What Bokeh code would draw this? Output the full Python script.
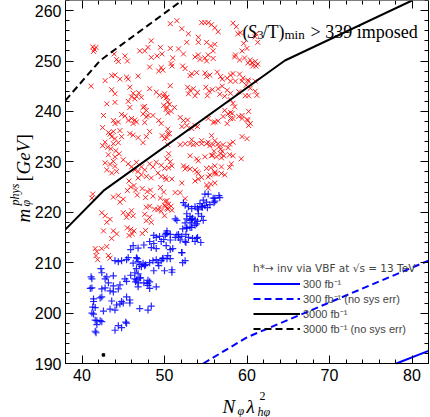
import math
from bokeh.plotting import figure
from bokeh.models import (Range1d, LinearAxis, SingleIntervalTicker, Label,
                          Legend, LegendItem)
from bokeh.embed import file_html
from bokeh.resources import INLINE

# ---------------- data ----------------
red_x = [41.3,41.5,41.7,41.4,41.1,43.9,44.2,44.4,45.2,45.5,48.4,47.0,47.6,48.0,48.4,49.1,49.7,49.5,
         48.2,49.3,49.6,49.8,42.8,43.6,44.0,44.6,45.4,45.6,46.8,45.8,43.6,44.0,46.2,46.6,46.9,47.2,46.4,46.0,
         48.2,49.0,49.4,49.9,50.3,49.9,50.3,47.4,47.8,47.6,45.6,45.8,43.0,44.0,42.6,43.8,44.0,44.4,
         44.8,45.2,45.6,46.0,46.2,46.6,46.4,47.4,47.8,48.0,47.6,48.6,49.3,49.6,50.4,
         42.5,43.2,43.4,43.8,44.0,43.6,44.6,44.8,44.4,45.8,46.2,46.8,48.2,47.8,47.4,49.7,50.0,50.4,42.8,
         51.5,50.7,52.1,54.5,54.9,55.3,55.7,56.1,56.5,58.3,58.7,52.9,52.7,54.1,54.1,55.1,55.6,56.1,55.9,
         58.9,59.2,59.6,60.0,50.7,50.8,50.9,51.0,51.7,52.3,53.7,54.1,54.3,54.9,55.1,55.3,55.9,
         58.5,59.1,59.7,60.1,60.7,52.2,52.5,53.1,53.3,53.9,54.9,55.1,55.5,56.4,56.8,57.0,57.6,58.0,58.3,
         59.1,59.5,59.9,60.1,50.7,52.8,53.1,53.5,52.9,53.7,54.0,55.0,55.4,55.8,55.2,56.5,56.7,57.3,
         58.0,58.3,58.5,50.0,50.2,50.4,50.6,50.2,50.8,51.2,51.9,52.3,52.1,52.7,52.8,53.3,53.7,54.0,
         55.3,55.9,56.5,57.7,58.0,58.3,59.4,60.1,53.3,54.5,55.7,56.1,55.3,50.4,50.6,50.3,59.4,60.0,
         61.0,61.3,61.1,58.6,59.4,60.4,60.6,61.0,61.3,61.1,57.0,58.0,58.6,59.4,60.2,61.0,60.4,61.0,61.2,
         57.6,58.0,59.0,59.8,60.2,60.2,60.0,60.4,60.2,58.2,58.0,59.0,59.4,57.3,57.1,56.1,57.6,
         57.9,58.3,56.6,56.8,56.0,55.8,57.0,56.8,57.2,58.1,56.1,56.9,55.6,56.1,56.3,55.6,
         42.5,43.1,43.5,43.8,44.1,44.5,43.2,44.0,42.8,43.4,43.8,44.0,43.0,43.6,44.2,
         45.0,45.6,46.0,46.4,46.8,47.2,46.6,47.6,47.2,46.8,47.8,48.2,48.6,49.0,49.6,50.0,49.2,49.6,48.4,50.2,
         41.3,41.2,43.8,44.4,44.6,45.0,45.7,45.9,46.3,45.5,46.5,46.7,47.3,47.9,48.3,47.7,48.6,
         49.5,49.9,49.5,50.1,42.4,42.8,43.4,43.0,45.0,45.6,46.0,45.4,46.2,47.6,48.2,47.8,48.4,
         49.2,49.6,50.0,42.6,43.8,44.2,43.6,45.5,45.9,46.3,46.1,45.7,47.3,47.7,41.6,42.4,
         41.8,41.7,41.9,43.0,43.2,43.4,47.8,48.2,48.8,49.4,50.0,50.4,50.8,
         50.4,51.9,52.5,53.1,53.5,53.9,54.5,55.1,55.5,55.9,56.5,57.1,57.7,50.5,50.3,50.7,50.9,50.5,
         53.1,53.9,54.1,54.9,55.7,56.3,56.9,57.9,58.3,59.3,52.3,52.5,52.7,53.1,53.7,53.9,54.1,
         55.1,55.5,56.1,56.9,57.3,57.9,55.3,50.1,50.9,52.1,53.7,54.1,54.5,55.1,55.3,56.1,
         51.3,51.9,52.5,50.3,50.5,50.3,50.1,50.9]
red_y = [252.8,252.3,252.7,251.9,245.0,251.4,250.3,249.9,251.0,250.0,254.0,252.0,252.0,252.7,250.7,251.0,251.4,252.7,
         248.8,248.0,248.7,248.2,246.1,247.1,247.2,246.4,246.8,246.4,247.0,244.8,244.3,243.5,243.6,243.0,243.7,242.8,242.5,242.9,
         244.5,243.8,243.2,243.0,242.8,241.2,240.8,240.8,240.2,241.0,242.0,240.8,241.5,241.8,239.2,238.2,237.6,237.9,
         239.4,239.1,238.2,238.6,237.6,237.9,238.3,239.5,238.9,239.2,237.8,239.2,238.2,237.6,239.7,
         236.8,235.8,235.5,236.0,234.6,235.0,236.2,235.0,233.8,235.6,235.3,234.8,236.0,235.0,233.8,235.2,234.6,235.6,233.9,
         258.0,257.4,256.4,257.6,257.6,257.6,257.2,256.6,255.8,257.5,256.8,255.4,253.7,254.7,253.7,253.7,253.0,253.3,252.0,
         255.4,255.6,253.5,252.5,252.5,249.5,249.0,250.6,252.4,251.4,250.8,251.2,250.3,250.6,250.0,251.2,250.5,
         250.8,250.2,250.6,249.6,249.0,249.0,248.5,247.1,247.5,247.7,247.6,246.9,247.2,247.8,246.9,246.4,246.6,247.2,247.5,
         247.4,246.6,245.2,246.2,245.1,244.8,244.2,244.5,243.5,243.1,243.8,244.8,244.0,244.3,243.1,244.5,243.4,243.0,
         242.3,241.6,240.9,243.5,242.7,241.9,241.4,240.4,240.0,240.8,238.8,238.2,237.0,237.2,238.3,236.6,237.2,237.0,
         238.6,237.8,238.1,239.5,239.8,238.6,239.2,238.2,234.4,234.2,235.2,234.2,233.9,236.5,235.6,234.8,235.0,234.6,
         254.8,253.7,255.4,251.2,252.0,250.2,249.6,249.9,249.4,249.0,245.0,246.0,246.0,246.0,246.0,246.0,244.6,244.0,243.2,
         244.2,243.6,243.9,243.1,243.1,240.0,238.4,237.6,237.2,239.6,238.6,239.0,238.6,240.2,239.0,237.9,237.6,
         233.5,233.9,233.0,232.5,232.1,231.3,232.1,231.6,231.2,229.6,229.2,229.0,228.8,228.0,227.6,225.6,
         233.2,232.9,232.6,233.6,232.2,231.6,231.4,231.0,229.8,229.5,230.1,229.1,228.4,227.8,228.1,
         230.4,229.6,229.0,228.4,228.1,229.0,229.9,228.4,227.4,226.8,227.1,229.6,229.0,229.9,229.3,228.7,227.8,227.1,226.8,226.5,
         223.6,222.8,223.0,223.3,222.0,222.6,226.2,225.0,225.3,224.3,224.4,223.4,224.7,224.1,224.4,222.9,223.2,
         224.9,224.0,222.8,222.2,219.9,219.3,218.6,218.0,219.9,219.6,220.3,219.0,219.3,219.6,219.0,218.3,218.0,
         220.5,220.2,219.3,216.3,216.3,215.7,214.8,216.9,216.6,216.3,215.7,215.4,215.8,216.4,212.8,212.8,
         212.2,211.4,210.6,213.2,211.4,210.9,221.0,221.2,220.6,221.0,221.4,220.6,221.2,
         233.4,233.4,233.6,233.6,233.4,233.6,233.6,233.6,233.2,233.4,233.6,233.4,232.8,231.6,230.6,230.0,229.2,228.8,
         231.2,230.6,230.2,231.0,231.2,231.0,230.8,231.4,231.2,230.6,229.2,228.6,228.9,228.6,228.4,228.0,227.7,
         228.7,227.4,227.7,227.7,227.4,228.9,227.0,226.9,226.6,225.8,226.2,226.6,226.9,225.4,224.8,225.8,
         223.9,223.9,222.7,222.3,221.6,220.8,221.2,220.4]

blue_x = [54.9,55.3,54.7,55.1,55.9,56.6,56.1,52.5,52.9,53.3,54.1,54.5,54.9,53.7,
          52.7,53.1,52.5,53.3,53.9,54.7,51.5,52.7,53.3,50.3,50.7,51.3,51.7,52.1,52.9,53.9,56.1,56.7,
          52.3,54.3,55.5,56.0,52.7,53.1,53.3,53.7,54.1,54.5,52.7,53.1,51.3,
          50.3,50.1,51.5,51.7,51.9,50.7,52.5,53.7,50.3,50.7,52.5,50.9,50.0,
          44.0,44.4,44.8,45.6,45.4,46.6,46.8,46.2,47.0,47.4,47.2,46.6,46.4,46.8,47.6,48.2,48.6,49.2,49.0,49.6,49.8,
          42.3,42.4,41.2,41.1,42.8,43.0,43.8,43.2,45.2,45.4,46.4,46.6,46.8,46.8,47.0,
          48.0,48.2,48.0,48.2,49.0,41.2,42.4,42.8,43.8,43.4,43.8,44.4,44.6,
          42.2,42.4,41.4,45.4,45.8,44.8,45.0,44.6,45.8,43.6,44.2,43.4,44.0,47.0,48.0,48.4,
          41.3,41.4,42.6,41.2,41.6,41.8,42.4,41.6,44.4,44.8,45.4,
          41.0,41.4,41.6,41.8,42.2,41.7,44.0,45.3,50.9,49.8,52.2,51.0,52.1,
          54.0,54.6,55.2,53.4,53.7,54.0,52.2,52.6,53.4,54.4,54.0,52.6,52.1,
          50.7,50.2,49.6,49.0,48.7,49.3,50.4,48.7,47.7,46.7,45.9,46.5,47.1,47.5,47.9,
          47.5,48.2,48.7,49.4,49.9,50.2,49.0,48.4,46.8,46.2,45.9]
blue_y = [223.6,223.6,222.4,222.0,222.8,223.3,222.2,221.4,221.1,220.7,220.5,221.1,221.3,221.1,
          218.7,218.4,217.9,217.9,217.7,218.4,218.4,216.8,217.0,216.3,215.6,215.0,215.6,215.2,215.0,214.8,222.8,222.9,
          221.9,221.7,221.5,221.9,219.7,219.2,218.6,218.5,219.7,219.2,217.0,217.0,218.7,
          215.8,215.5,215.5,215.0,214.5,214.5,214.2,214.2,210.8,210.8,210.4,208.6,208.4,
          210.4,210.2,210.4,211.0,210.6,211.0,210.2,209.9,209.6,209.9,209.2,208.8,208.0,207.8,209.4,210.0,210.4,210.0,210.6,210.4,210.9,
          208.8,208.0,206.8,207.2,206.8,207.2,207.4,206.0,206.8,206.3,206.8,206.6,206.0,205.2,207.0,
          206.5,206.2,205.5,204.9,205.2,205.0,204.8,205.0,205.4,204.4,204.2,204.8,205.6,
          203.0,203.2,202.8,203.2,202.6,202.3,202.0,201.8,202.0,202.4,201.6,200.8,200.6,200.9,200.6,201.4,
          201.2,199.8,200.4,200.0,198.6,197.7,198.3,196.4,197.5,197.1,198.0,
          204.9,202.3,201.1,198.5,198.5,196.1,196.6,198.2,208.1,210.8,210.0,212.8,212.0,
          220.8,221.0,220.9,218.8,217.4,218.2,216.7,215.6,214.8,214.0,215.0,214.0,212.0,
          212.6,213.4,214.2,215.0,213.8,209.4,211.4,208.4,209.6,210.8,207.5,206.2,207.0,206.0,205.9,
          213.5,214.2,215.4,215.2,214.6,215.8,212.8,213.0,212.9,213.4,212.6]

dot_x = [42.6]
dot_y = [191.7]

# exclusion curves (h* -> inv via VBF), within the plotted box
b300_x = [78.1, 82.0]
b300_y = [190.0, 192.5]
b300n_x = [54.7, 60.0, 82.0]
b300n_y = [190.0, 195.2, 210.4]
k3000_x = [38.0, 42.7, 64.6, 80.0]
k3000_y = [216.6, 224.4, 250.1, 262.0]
k3000n_x = [38.0, 42.2, 52.1]
k3000n_y = [242.2, 250.1, 262.0]

x_lo, x_hi = 38, 82
y_lo, y_hi = 190, 262
x_ticks_major = 10
y_ticks_major = 10

# canvas geometry: the box spans 363x363 px with 65 px left and 54 px below
W, H = 430, 417
BL, BR, BT, BB = 65, 2, 0, 54
sx = (W - BL - BR) / (x_hi - x_lo)
sy = (H - BT - BB) / (y_hi - y_lo)

p = figure(frame_width=W, frame_height=H,
           min_border_left=0, min_border_right=0, min_border_top=0, min_border_bottom=0,
           x_range=Range1d(x_lo - BL / sx, x_hi + BR / sx),
           y_range=Range1d(y_lo - BB / sy, y_hi + BT / sy),
           output_backend="svg", toolbar_location=None,
           x_axis_location=None, y_axis_location=None)
p.grid.visible = False
p.outline_line_color = None
p.background_fill_color = "white"
p.border_fill_color = "white"

def make_axis(side, labels):
    if side in ("below", "above"):
        ax = LinearAxis(ticker=SingleIntervalTicker(interval=x_ticks_major, num_minor_ticks=5),
                        bounds=(x_lo, x_hi),
                        fixed_location=(y_lo if side == "below" else y_hi))
    else:
        ax = LinearAxis(ticker=SingleIntervalTicker(interval=y_ticks_major, num_minor_ticks=5),
                        bounds=(y_lo, y_hi),
                        fixed_location=(x_lo if side == "left" else x_hi))
    ax.axis_line_color = "black"
    ax.axis_line_width = 1
    ax.major_tick_in = 8
    ax.major_tick_out = 0
    ax.minor_tick_in = 4
    ax.minor_tick_out = 0
    ax.major_tick_line_color = "black"
    ax.minor_tick_line_color = "black"
    if labels:
        ax.major_label_text_font = "Liberation Sans"
        ax.major_label_text_font_size = "16px"
        ax.major_label_text_color = "black"
        ax.major_label_standoff = 5 if side == "below" else 4
    else:
        ax.major_label_text_font_size = "0px"
        ax.major_label_standoff = 0
        ax.major_label_text_alpha = 0
    p.add_layout(ax, side)

make_axis("below", True)
make_axis("left", True)
make_axis("above", False)
make_axis("right", False)

def lab(px, py, text, size, style="normal", font="Liberation Serif", angle=0):
    p.add_layout(Label(x=px, y=H - py, x_units="screen", y_units="screen", text=text,
                       text_font=font, text_font_size=size, text_font_style=style,
                       text_color="black", angle=angle, text_baseline="alphabetic",
                       text_align="left"))

# scatter points
p.scatter(red_x, red_y, marker="x", size=7, line_color="#ff0000", line_width=1.0, line_alpha=0.85)
p.scatter(blue_x, blue_y, marker="cross", size=7, line_color="#0000ff", line_width=1.2, line_alpha=0.85)
p.scatter(dot_x, dot_y, marker="square", size=2.5, fill_color="black", line_color="black")

# curves
r1 = p.line(b300_x, b300_y, line_color="#0000ff", line_width=2)
r2 = p.line(b300n_x, b300n_y, line_color="#0000ff", line_width=2, line_dash="7 4")
r3 = p.line(k3000_x, k3000_y, line_color="black", line_width=2)
r4 = p.line(k3000n_x, k3000n_y, line_color="black", line_width=2, line_dash="7 4")

legend = Legend(items=[LegendItem(label="300 fb\u207b\u00b9", renderers=[r1]),
                       LegendItem(label="300 fb\u207b\u00b9 (no sys err)", renderers=[r2]),
                       LegendItem(label="3000 fb\u207b\u00b9", renderers=[r3]),
                       LegendItem(label="3000 fb\u207b\u00b9 (no sys err)", renderers=[r4])],
                location=(253, H - 336), title="h*\u2192 inv via VBF at \u221as = 13 TeV",
                title_text_font="DejaVu Sans", title_text_font_size="10.5px",
                title_text_font_style="normal", title_standoff=2,
                label_text_font="Liberation Sans", label_text_font_size="11px",
                glyph_width=47, glyph_height=15, label_height=15, label_standoff=3,
                spacing=0, padding=0, margin=0,
                background_fill_alpha=0, border_line_alpha=0)
p.add_layout(legend)

# annotation (S3/T)min > 339 imposed
lab(242, 31, "(", "18px")
lab(247, 31, "S", "18px", "italic")
lab(257, 34, "3", "12px")
lab(262, 31, "/T)", "18px")
lab(284, 34, "min", "13px")
lab(310, 31, "> 339 imposed", "18px")

# x axis label  N_phi lambda^2_{h phi}
lab(222, 406, "N", "19px", "italic")
lab(237, 410, "\u03c6", "12px", "italic")
lab(246, 406, "\u03bb", "19px", "italic")
lab(259, 395, "2", "12px")
lab(257, 411, "h\u03c6", "12px", "italic")

# y axis label  m_phi^phys [GeV]
a = math.pi / 2
lab(23, 222, "m", "19px", "italic", angle=a)
lab(25, 206, "\u03c6", "12px", "italic", angle=a)
lab(14, 205, "phys", "12px", "italic", angle=a)
lab(23, 181, "[", "19px", angle=a)
lab(23, 174, "GeV", "19px", "italic", angle=a)
lab(23, 140, "]", "19px", angle=a)

open("out.html", "w").write(file_html(p, INLINE))
